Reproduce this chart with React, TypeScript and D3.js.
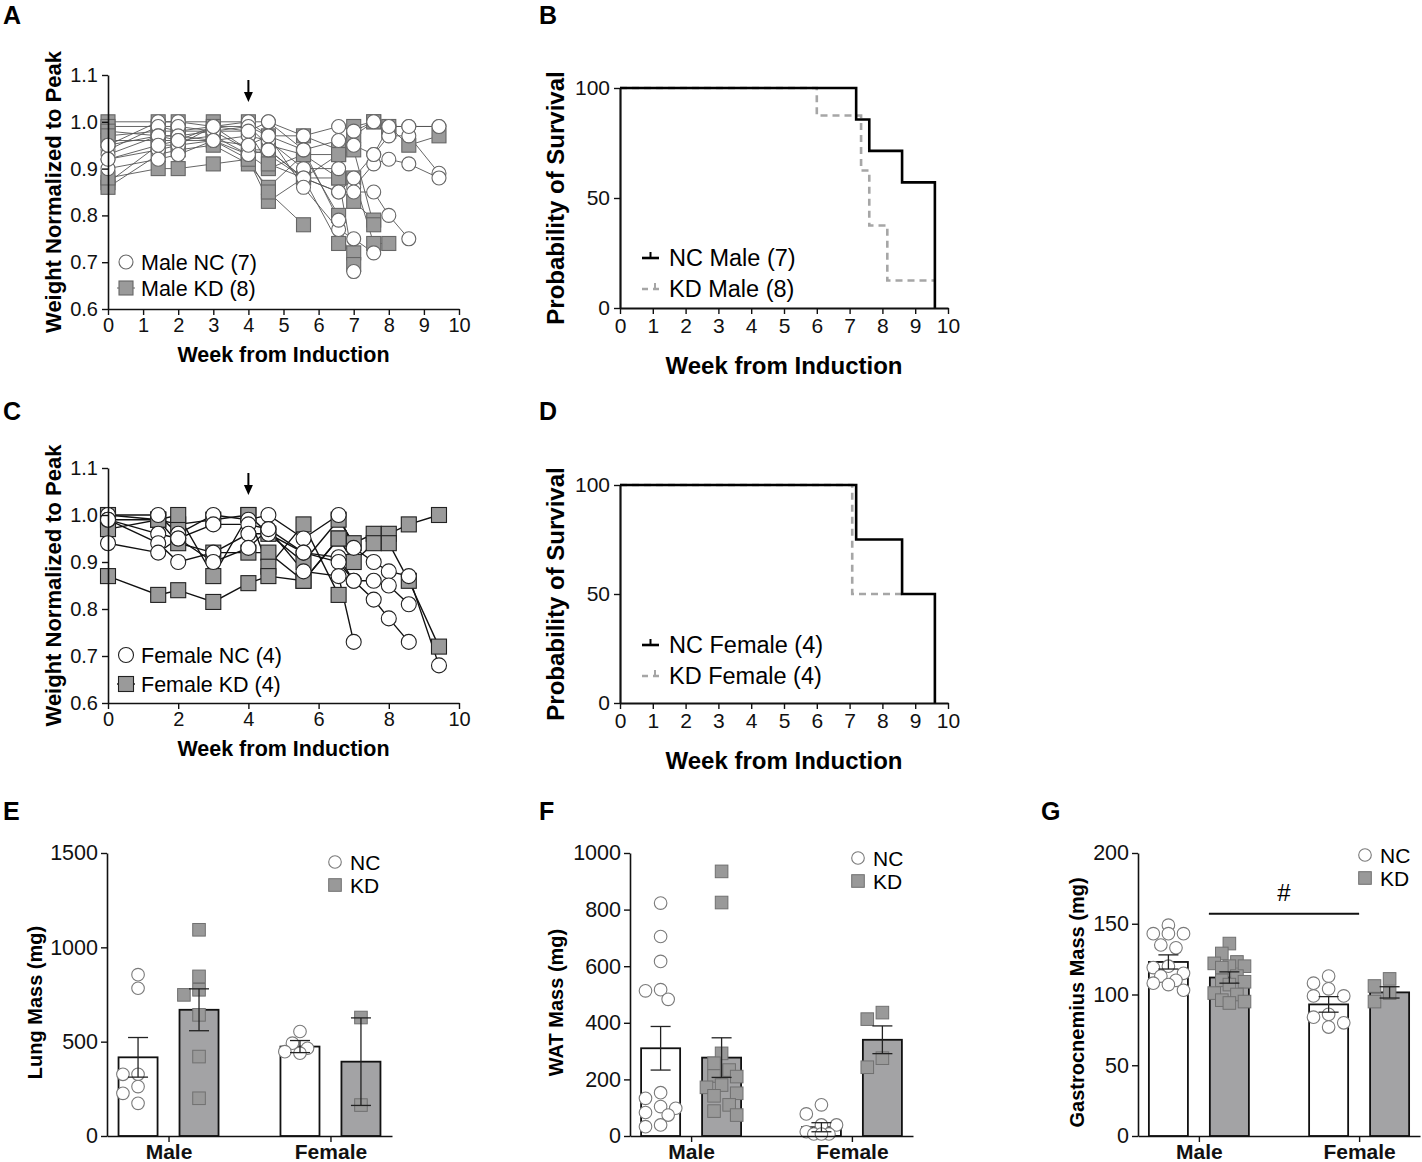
import React, { useEffect, useRef } from "react";
import * as d3 from "d3";

const FONT = "'Liberation Sans', Arial, sans-serif";

// weeks at which the mice were weighed
const weighWeeks = [0, 1.43, 2, 3, 4, 4.57, 5.57, 6.57, 7, 7.57, 8, 8.57, 9.43];

// weight normalized to peak, one array per mouse (ends when the mouse died)
const maleNC = [
  [0.95, 1.0, 1.0, 0.99, 1.0, 1.0, 0.97, 0.99, 0.98, 1.0, 0.99, 0.99, 0.99],
  [0.94, 0.99, 0.99, 0.98, 0.99, 0.97, 0.94, 0.96, 0.95, 0.93, 0.97, 0.97, 0.89],
  [0.93, 0.97, 0.97, 0.96, 0.97, 0.96, 0.9, 0.9, 0.86, 0.91, 0.92, 0.91, 0.88],
  [0.92, 0.94, 0.95, 0.99, 0.94, 0.94, 0.88, 0.85, 0.88, 0.93, 0.99, 0.99, 0.99],
  [0.9, 0.92, 0.93, 0.96, 0.93, 0.94, 0.88, 0.85, 0.85, 0.85, 0.8, 0.75],
  [0.95, 0.97, 0.96, 0.96, 0.95, 0.97, 0.86, 0.77, 0.75, 0.72],
  [0.92, 0.95, 0.96, 0.99, 0.98, 1.0, 0.94, 0.79, 0.68]
];
const maleKD = [
  [1.0, 1.0, 1.0, 1.0, 1.0, 0.97, 0.97, 0.94, 0.99, 1.0, 0.99, 0.95, 0.97],
  [0.99, 0.99, 0.98, 0.99, 0.99, 0.95, 0.93, 0.93, 0.97, 1.0, 0.98],
  [0.98, 0.97, 0.97, 0.98, 0.94, 0.93, 0.88, 0.88, 0.88, 0.74, 0.74],
  [0.96, 0.96, 0.96, 0.97, 0.93, 0.9, 0.93, 0.8, 0.83, 0.79],
  [0.97, 0.98, 0.98, 0.98, 0.98, 0.91, 0.88, 0.93, 0.94, 0.78],
  [0.87, 0.95, 0.95, 0.96, 0.92, 0.83, 0.88, 0.74, 0.72],
  [0.86, 0.93, 0.94, 0.95, 0.91, 0.86, 0.93, 0.88, 0.695],
  [0.88, 0.9, 0.9, 0.91, 0.92, 0.85, 0.78]
];
const femaleNC = [
  [1.0, 1.0, 0.96, 1.0, 0.99, 1.0, 0.95, 1.0, 0.93, 0.9, 0.88, 0.87, 0.68],
  [0.99, 0.96, 0.95, 0.98, 0.98, 0.97, 0.92, 0.91, 0.86, 0.86, 0.85, 0.81],
  [0.99, 0.94, 0.9, 0.92, 0.96, 0.96, 0.92, 0.9, 0.86, 0.82, 0.78, 0.73],
  [0.94, 0.92, 0.95, 0.9, 0.93, 0.97, 0.88, 0.87, 0.73]
];
const femaleKD = [
  [0.99, 0.99, 0.98, 0.99, 1.0, 0.96, 0.9, 0.99, 0.94, 0.96, 0.96, 0.98, 1.0],
  [0.97, 0.99, 0.94, 0.92, 0.92, 0.92, 0.86, 0.95, 0.9, 0.94, 0.94, 0.86, 0.72],
  [1.0, 0.99, 1.0, 0.87, 1.0, 0.89, 0.98, 0.83],
  [0.87, 0.83, 0.84, 0.815, 0.855, 0.87, 0.86, 0.95]
];

// survival curves: [week, percent surviving]
const maleNCSurv = [[0, 100], [7.2, 85.7], [7.6, 71.4], [8.6, 57.1], [9.6, 0]];
const maleKDSurv = [[0, 100], [6.0, 87.5], [7.35, 62.5], [7.6, 37.5], [8.15, 12.5], [9.6, 12.5]];
const femaleNCSurv = [[0, 100], [7.2, 75], [8.6, 50], [9.6, 0]];
const femaleKDSurv = [[0, 100], [7.08, 50], [8.6, 50]];

// bar charts, groups: Male NC, Male KD, Female NC, Female KD
const sexes = ["Male", "Female"];
const diets = ["NC", "KD"];

const lungMeans = [417, 669, 474, 394];
const lungSem = [105, 111, 32, 232];
const lungPoints = [
  [855, 783, 327, 327, 262, 226, 173],
  [1093, 846, 775, 748, 642, 421, 200],
  [554, 492, 465, 447, 439],
  [628, 164]
];

const watMeans = [310, 277, 31, 340];
const watSem = [77, 70, 16, 49];
const watPoints = [
  [823, 705, 617, 517, 513, 483, 153, 133, 104, 98, 83, 74, 39, 33],
  [935, 825, 292, 257, 233, 212, 210, 180, 172, 151, 142, 110, 88, 74],
  [110, 78, 39, 39, 15, 7, 7, 7],
  [436, 413, 275, 243]
];

const gastroMeans = [123, 112, 93, 101.5];
const gastroSem = [5, 4, 5.5, 4];
const gastroPoints = [
  [149, 143, 143, 143, 135, 133, 120, 119, 115, 113, 110, 108, 107, 103],
  [136, 129, 123, 122, 120, 120, 119, 113, 110, 109, 107, 101, 100, 96, 95, 94],
  [113, 108, 104, 99, 99, 86, 84, 80, 77],
  [111, 106, 101, 95]
];

function styleAxis(g, size) {
  g.select(".domain").attr("stroke", "#111").attr("stroke-width", 1.6);
  g.selectAll(".tick line").attr("stroke", "#111").attr("stroke-width", 1.4);
  g.selectAll(".tick text").attr("font-family", FONT).attr("font-size", size).attr("fill", "#111");
}

function panelLetter(svg, letter, x, y) {
  svg.append("text").attr("x", x).attr("y", y).text(letter)
    .attr("font-family", FONT).attr("font-weight", "bold").attr("font-size", 25);
}

function yTitle(svg, text, x, y, size) {
  svg.append("text").attr("transform", `translate(${x},${y}) rotate(-90)`)
    .attr("text-anchor", "middle").attr("font-family", FONT).attr("font-weight", "bold")
    .attr("font-size", size).text(text);
}

function xTitle(svg, text, x, y, size) {
  svg.append("text").attr("x", x).attr("y", y).attr("text-anchor", "middle")
    .attr("font-family", FONT).attr("font-weight", "bold").attr("font-size", size).text(text);
}

function drawWeights(svg, c) {
  const x = d3.scaleLinear().domain([0, 10]).range([c.left, c.right]);
  const y = d3.scaleLinear().domain([0.6, 1.1]).range([c.bottom, c.top]);
  const g = svg.append("g");
  const line = d3.line<number>().x((d, i) => x(weighWeeks[i])).y(d => y(d));

  [...c.kd, ...c.nc].forEach(s => {
    g.append("path").attr("d", line(s)).attr("fill", "none")
      .attr("stroke", c.lineColor).attr("stroke-width", c.lineWidth);
  });
  const h = c.size;
  c.kd.forEach(s => s.forEach((v, i) => {
    g.append("rect").attr("x", x(weighWeeks[i]) - h / 2).attr("y", y(v) - h / 2)
      .attr("width", h).attr("height", h).attr("fill", "#9a9a9a")
      .attr("stroke", c.markStroke).attr("stroke-width", 1.1);
  }));
  c.nc.forEach(s => s.forEach((v, i) => {
    g.append("circle").attr("cx", x(weighWeeks[i])).attr("cy", y(v)).attr("r", h / 2)
      .attr("fill", "#fff").attr("stroke", c.markStroke).attr("stroke-width", 1.1);
  }));

  // arrow at week 4
  const ax = x(4);
  g.append("line").attr("x1", ax).attr("x2", ax).attr("y1", c.top + 5).attr("y2", c.top + 20)
    .attr("stroke", "#000").attr("stroke-width", 2);
  g.append("path").attr("d", `M${ax - 4.5},${c.top + 17}L${ax + 4.5},${c.top + 17}L${ax},${c.top + 27}Z`)
    .attr("fill", "#000");

  const ya = g.append("g").attr("transform", `translate(${c.left},0)`)
    .call(d3.axisLeft(y).tickValues(d3.range(6, 12).map(d => d / 10))
      .tickFormat(d3.format(".1f")).tickSize(6).tickSizeOuter(0).tickPadding(4));
  styleAxis(ya, 20);
  const xa = g.append("g").attr("transform", `translate(0,${c.bottom})`)
    .call(d3.axisBottom(x).tickValues(d3.range(0, 11, c.xStep)).tickSize(6).tickSizeOuter(0).tickPadding(3));
  styleAxis(xa, 20);

  // legend
  const lx = c.left + 18;
  g.append("circle").attr("cx", lx).attr("cy", c.legendY[0]).attr("r", h / 2)
    .attr("fill", "#fff").attr("stroke", c.markStroke).attr("stroke-width", 1.1);
  g.append("line").attr("x1", lx - 9).attr("x2", lx + 9).attr("y1", c.legendY[1]).attr("y2", c.legendY[1])
    .attr("stroke", c.lineColor).attr("stroke-width", c.lineWidth);
  g.append("rect").attr("x", lx - h / 2).attr("y", c.legendY[1] - h / 2).attr("width", h).attr("height", h)
    .attr("fill", "#9a9a9a").attr("stroke", c.markStroke).attr("stroke-width", 1.1);
  c.labels.forEach((t, i) => {
    g.append("text").attr("x", lx + 15).attr("y", c.legendY[i] + 7.5).text(t)
      .attr("font-family", FONT).attr("font-size", 21.5);
  });

  yTitle(svg, "Weight Normalized to Peak", c.left - 47, (c.top + c.bottom) / 2, 22);
  xTitle(svg, "Week from Induction", (c.left + c.right) / 2, c.bottom + 53, 21.5);
}

function drawSurvival(svg, c) {
  const x = d3.scaleLinear().domain([0, 10]).range([c.left, c.right]);
  const y = d3.scaleLinear().domain([0, 100]).range([c.bottom, c.top]);
  const g = svg.append("g");
  const line = d3.line<number[]>().x(d => x(d[0])).y(d => y(d[1])).curve(d3.curveStepAfter);

  g.append("path").attr("d", line(c.kd)).attr("fill", "none").attr("stroke", "#a6a6a6")
    .attr("stroke-width", 2.6).attr("stroke-dasharray", "7,5");
  g.append("path").attr("d", line(c.nc)).attr("fill", "none").attr("stroke", "#000")
    .attr("stroke-width", 2.6);

  const ya = g.append("g").attr("transform", `translate(${c.left},0)`)
    .call(d3.axisLeft(y).tickValues([0, 50, 100]).tickSize(6).tickSizeOuter(0).tickPadding(4));
  styleAxis(ya, 21);
  ya.select(".domain").attr("stroke-width", 2.2);
  const xa = g.append("g").attr("transform", `translate(0,${c.bottom})`)
    .call(d3.axisBottom(x).tickValues(d3.range(0, 11)).tickSize(6).tickSizeOuter(0).tickPadding(4));
  styleAxis(xa, 21);
  xa.select(".domain").attr("stroke-width", 2.2);

  const lx = c.left + 22;
  g.append("line").attr("x1", lx).attr("x2", lx + 17).attr("y1", c.legendY[0]).attr("y2", c.legendY[0])
    .attr("stroke", "#000").attr("stroke-width", 2.6);
  g.append("line").attr("x1", lx + 8.5).attr("x2", lx + 8.5).attr("y1", c.legendY[0] - 6).attr("y2", c.legendY[0])
    .attr("stroke", "#000").attr("stroke-width", 2);
  g.append("line").attr("x1", lx).attr("x2", lx + 17).attr("y1", c.legendY[1]).attr("y2", c.legendY[1])
    .attr("stroke", "#a6a6a6").attr("stroke-width", 2.6).attr("stroke-dasharray", "6,5");
  g.append("line").attr("x1", lx + 13).attr("x2", lx + 13).attr("y1", c.legendY[1] - 6).attr("y2", c.legendY[1])
    .attr("stroke", "#a6a6a6").attr("stroke-width", 2);
  c.labels.forEach((t, i) => {
    g.append("text").attr("x", lx + 27).attr("y", c.legendY[i] + 8).text(t)
      .attr("font-family", FONT).attr("font-size", 23.5);
  });

  yTitle(svg, "Probability of Survival", c.left - 56, (c.top + c.bottom) / 2, 24);
  xTitle(svg, "Week from Induction", (c.left + c.right) / 2, c.bottom + 66, 24);
}

// simple dot dodge so overlapping values spread sideways like a scatter dot plot
function swarm(vals, y, r) {
  const offsets = [0, -1, 1, -2, 2].map(k => k * r * 1.2);
  const placed = [];
  return vals.map(v => {
    const py = y(v);
    let best = 0, bestD = -1;
    for (const o of offsets) {
      const d = placed.length ? d3.min(placed, p => Math.hypot(p[0] - o, p[1] - py)) : Infinity;
      if (d >= 2 * r * 0.95) { best = o; bestD = d; break; }
      if (d > bestD) { bestD = d; best = o; }
    }
    placed.push([best, py]);
    return best;
  });
}

function drawBars(svg, c) {
  const x = d3.scalePoint().domain(sexes).range([c.left, c.right]).padding(0.38);
  const sub = d3.scaleBand().domain(diets).range([-50, 50]).paddingInner(0.36);
  const y = d3.scaleLinear().domain([0, c.max]).range([c.bottom, c.top]);
  const g = svg.append("g");
  const bw = sub.bandwidth();
  const r = 6.3;

  c.means.forEach((m, i) => {
    const sex = sexes[Math.floor(i / 2)];
    const diet = diets[i % 2];
    const cx = x(sex) + sub(diet) + bw / 2;
    g.append("rect").attr("x", cx - bw / 2).attr("y", y(m)).attr("width", bw)
      .attr("height", c.bottom - y(m)).attr("fill", diet === "NC" ? "#fff" : "#a3a3a5")
      .attr("stroke", "#111").attr("stroke-width", 1.8);
    const offs = swarm(c.points[i], y, r);
    c.points[i].forEach((v, j) => {
      if (diet === "NC") {
        g.append("circle").attr("cx", cx + offs[j]).attr("cy", y(v)).attr("r", r)
          .attr("fill", "#fff").attr("stroke", "#7a7a7a").attr("stroke-width", 1.1);
      } else {
        g.append("rect").attr("x", cx + offs[j] - r).attr("y", y(v) - r).attr("width", 2 * r)
          .attr("height", 2 * r).attr("fill", "#999").attr("stroke", "#707070").attr("stroke-width", 1);
      }
    });
    const s = c.sem[i];
    const eb = g.append("g").attr("stroke", "#222").attr("stroke-width", 1.3);
    eb.append("line").attr("x1", cx).attr("x2", cx).attr("y1", y(m - s)).attr("y2", y(m + s));
    [m - s, m + s].forEach(v => {
      eb.append("line").attr("x1", cx - 10).attr("x2", cx + 10).attr("y1", y(v)).attr("y2", y(v));
    });
  });

  const ya = g.append("g").attr("transform", `translate(${c.left},0)`)
    .call(d3.axisLeft(y).tickValues(c.ticks).tickFormat(d3.format("d"))
      .tickSize(6).tickSizeOuter(0).tickPadding(3));
  styleAxis(ya, 21.5);
  const xa = g.append("g").attr("transform", `translate(0,${c.bottom})`)
    .call(d3.axisBottom(x).tickSize(6).tickSizeOuter(0).tickPadding(2));
  styleAxis(xa, 21);
  xa.selectAll(".tick text").attr("font-weight", "bold");

  const lx = c.legendX;
  g.append("circle").attr("cx", lx).attr("cy", c.legendY).attr("r", r)
    .attr("fill", "#fff").attr("stroke", "#7a7a7a").attr("stroke-width", 1.1);
  g.append("rect").attr("x", lx - r).attr("y", c.legendY + 23 - r).attr("width", 2 * r).attr("height", 2 * r)
    .attr("fill", "#999").attr("stroke", "#707070");
  diets.forEach((t, i) => {
    g.append("text").attr("x", lx + 15).attr("y", c.legendY + i * 23 + 7.5).text(t)
      .attr("font-family", FONT).attr("font-size", 21);
  });

  if (c.sig) {
    const sy = y(c.sig);
    g.append("line").attr("x1", x("Male") + 10).attr("x2", x("Female")).attr("y1", sy).attr("y2", sy)
      .attr("stroke", "#111").attr("stroke-width", 2);
    g.append("text").attr("x", (x("Male") + 10 + x("Female")) / 2).attr("y", sy - 13)
      .attr("text-anchor", "middle").attr("font-family", FONT).attr("font-size", 24).text("#");
  }

  yTitle(svg, c.title, c.titleX, (c.top + c.bottom) / 2 + 8, 20);
}

export default function App() {
  const ref = useRef<SVGSVGElement>(null);

  useEffect(() => {
    const svg = d3.select(ref.current);
    svg.selectAll("*").remove();

    panelLetter(svg, "A", 3, 24);
    panelLetter(svg, "B", 539, 24);
    panelLetter(svg, "C", 3, 420);
    panelLetter(svg, "D", 539, 420);
    panelLetter(svg, "E", 3, 820);
    panelLetter(svg, "F", 539, 820);
    panelLetter(svg, "G", 1041, 820);

    drawWeights(svg, {
      left: 108, right: 459, top: 75, bottom: 309, xStep: 1, nc: maleNC, kd: maleKD,
      lineColor: "#555", lineWidth: 0.9, markStroke: "#666", size: 14,
      legendY: [262, 288], labels: ["Male NC (7)", "Male KD (8)"]
    });
    drawWeights(svg, {
      left: 108, right: 459, top: 468, bottom: 703, xStep: 2, nc: femaleNC, kd: femaleKD,
      lineColor: "#111", lineWidth: 1.4, markStroke: "#222", size: 15,
      legendY: [655, 684], labels: ["Female NC (4)", "Female KD (4)"]
    });
    drawSurvival(svg, {
      left: 620, right: 948, top: 88, bottom: 308, nc: maleNCSurv, kd: maleKDSurv,
      legendY: [258, 289], labels: ["NC Male (7)", "KD Male (8)"]
    });
    drawSurvival(svg, {
      left: 620, right: 948, top: 485, bottom: 703, nc: femaleNCSurv, kd: femaleKDSurv,
      legendY: [645, 676], labels: ["NC Female (4)", "KD Female (4)"]
    });
    drawBars(svg, {
      left: 107, right: 392, top: 853, bottom: 1136, max: 1500, ticks: [0, 500, 1000, 1500],
      means: lungMeans, sem: lungSem, points: lungPoints, title: "Lung Mass (mg)", titleX: 42,
      legendX: 335, legendY: 862
    });
    drawBars(svg, {
      left: 630, right: 913, top: 853, bottom: 1136, max: 1000, ticks: [0, 200, 400, 600, 800, 1000],
      means: watMeans, sem: watSem, points: watPoints, title: "WAT Mass (mg)", titleX: 563,
      legendX: 858, legendY: 858
    });
    drawBars(svg, {
      left: 1138, right: 1420, top: 853, bottom: 1136, max: 200, ticks: [0, 50, 100, 150, 200],
      means: gastroMeans, sem: gastroSem, points: gastroPoints, title: "Gastrocnemius Mass (mg)", titleX: 1084,
      legendX: 1365, legendY: 855, sig: 157
    });
  }, []);

  return (
    <svg ref={ref} width={1422} height={1162}
      style={{ position: "absolute", left: 0, top: 0, background: "#fff" }} />
  );
}
